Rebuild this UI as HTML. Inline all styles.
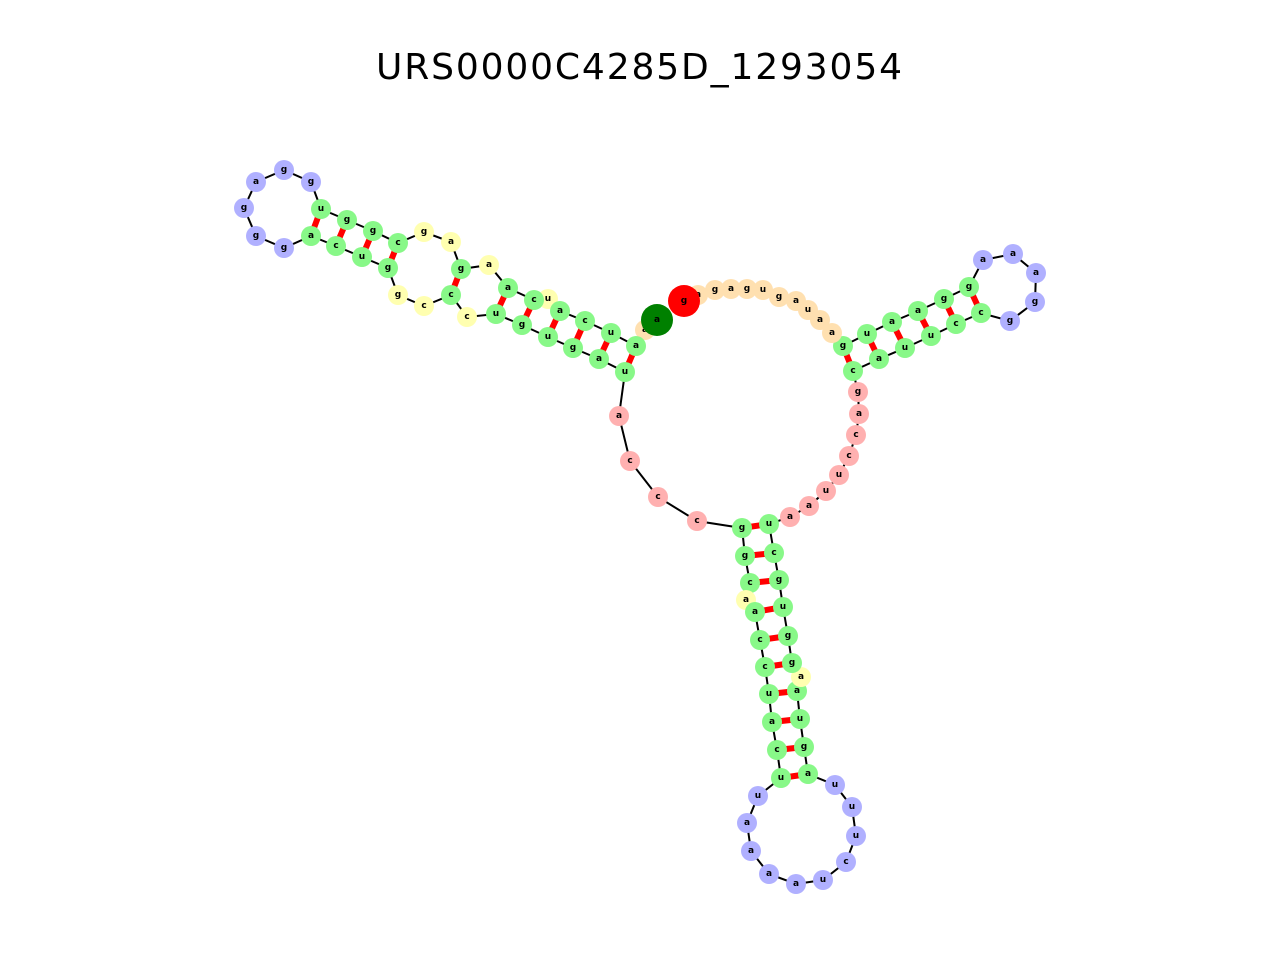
<!DOCTYPE html>
<html><head><meta charset="utf-8"><style>
body{margin:0;background:#fff;}
svg text{font-family:"DejaVu Sans","Liberation Sans",sans-serif;}
.n{font-size:9px;font-weight:bold;text-anchor:middle;dominant-baseline:central;fill:#000;}
.G{fill:#88f888}.B{fill:#b0b0ff}.P{fill:#ffb0b0}.Y{fill:#ffffb0}.O{fill:#ffe0b0}
</style></head><body>
<svg width="1280" height="960" viewBox="0 0 1280 960" xmlns="http://www.w3.org/2000/svg">
<text x="639" y="79" font-size="36" text-anchor="middle" textLength="526">URS0000C4285D_1293054</text>
<g stroke="red" stroke-width="6">
<line x1="311" y1="236" x2="321" y2="209"/><line x1="336" y1="246" x2="347" y2="220"/><line x1="362" y1="257" x2="373" y2="231"/><line x1="388" y1="268" x2="398" y2="243"/><line x1="451" y1="295" x2="461" y2="269"/><line x1="496" y1="314" x2="508" y2="288"/><line x1="522" y1="325" x2="534" y2="300"/><line x1="548" y1="337" x2="560" y2="311"/><line x1="573" y1="348" x2="585" y2="321"/><line x1="599" y1="359" x2="611" y2="333"/><line x1="625" y1="372" x2="636" y2="346"/>
<line x1="853" y1="371" x2="843" y2="346"/><line x1="879" y1="359" x2="867" y2="334"/><line x1="905" y1="348" x2="892" y2="322"/><line x1="931" y1="336" x2="918" y2="311"/><line x1="956" y1="324" x2="944" y2="299"/><line x1="981" y1="313" x2="969" y2="287"/>
<line x1="742" y1="528" x2="769" y2="524"/><line x1="745" y1="556" x2="774" y2="553"/><line x1="750" y1="583" x2="779" y2="580"/><line x1="755" y1="612" x2="783" y2="607"/><line x1="760" y1="640" x2="788" y2="636"/><line x1="765" y1="667" x2="792" y2="663"/><line x1="769" y1="694" x2="797" y2="691"/><line x1="772" y1="722" x2="800" y2="719"/><line x1="777" y1="750" x2="804" y2="747"/><line x1="781" y1="778" x2="808" y2="774"/>
</g>
<polyline fill="none" stroke="#000" stroke-width="2" points="657,320 645,330 636,346 611,333 585,321 560,311 548,299 534,300 508,288 489,265 461,269 451,242 424,232 398,243 373,231 347,220 321,209 311,182 284,170 256,182 244,208 256,236 284,248 311,236 336,246 362,257 388,268 398,295 424,306 451,295 467,317 496,314 522,325 548,337 573,348 599,359 625,372 619,416 630,461 658,497 697,521 742,528 745,556 750,583 746,600 755,612 760,640 765,667 769,694 772,722 777,750 781,778 758,796 747,823 751,851 769,874 796,884 823,880 846,862 856,836 852,807 835,785 808,774 804,747 800,719 797,691 801,677 792,663 788,636 783,607 779,580 774,553 769,524 790,517 809,506 826,491 839,475 849,456 856,435 859,414 858,392 853,371 879,359 905,348 931,336 956,324 981,313 1010,321 1035,302 1036,273 1013,254 983,260 969,287 944,299 918,311 892,322 867,334 843,346 832,333 820,320 808,310 796,301 779,297 763,290 747,289 731,289 715,290 698,295 684,301"/>
<g>
<circle cx="645" cy="330" r="10" class="O"/><text class="n" x="645" y="330">a</text>
<circle cx="636" cy="346" r="10" class="G"/><text class="n" x="636" y="346">a</text>
<circle cx="611" cy="333" r="10" class="G"/><text class="n" x="611" y="333">u</text>
<circle cx="585" cy="321" r="10" class="G"/><text class="n" x="585" y="321">c</text>
<circle cx="548" cy="299" r="10" class="Y"/><text class="n" x="548" y="299">u</text>
<circle cx="560" cy="311" r="10" class="G"/><text class="n" x="560" y="311">a</text>
<circle cx="534" cy="300" r="10" class="G"/><text class="n" x="534" y="300">c</text>
<circle cx="508" cy="288" r="10" class="G"/><text class="n" x="508" y="288">a</text>
<circle cx="489" cy="265" r="10" class="Y"/><text class="n" x="489" y="265">a</text>
<circle cx="461" cy="269" r="10" class="G"/><text class="n" x="461" y="269">g</text>
<circle cx="451" cy="242" r="10" class="Y"/><text class="n" x="451" y="242">a</text>
<circle cx="424" cy="232" r="10" class="Y"/><text class="n" x="424" y="232">g</text>
<circle cx="398" cy="243" r="10" class="G"/><text class="n" x="398" y="243">c</text>
<circle cx="373" cy="231" r="10" class="G"/><text class="n" x="373" y="231">g</text>
<circle cx="347" cy="220" r="10" class="G"/><text class="n" x="347" y="220">g</text>
<circle cx="321" cy="209" r="10" class="G"/><text class="n" x="321" y="209">u</text>
<circle cx="311" cy="182" r="10" class="B"/><text class="n" x="311" y="182">g</text>
<circle cx="284" cy="170" r="10" class="B"/><text class="n" x="284" y="170">g</text>
<circle cx="256" cy="182" r="10" class="B"/><text class="n" x="256" y="182">a</text>
<circle cx="244" cy="208" r="10" class="B"/><text class="n" x="244" y="208">g</text>
<circle cx="256" cy="236" r="10" class="B"/><text class="n" x="256" y="236">g</text>
<circle cx="284" cy="248" r="10" class="B"/><text class="n" x="284" y="248">g</text>
<circle cx="311" cy="236" r="10" class="G"/><text class="n" x="311" y="236">a</text>
<circle cx="336" cy="246" r="10" class="G"/><text class="n" x="336" y="246">c</text>
<circle cx="362" cy="257" r="10" class="G"/><text class="n" x="362" y="257">u</text>
<circle cx="388" cy="268" r="10" class="G"/><text class="n" x="388" y="268">g</text>
<circle cx="398" cy="295" r="10" class="Y"/><text class="n" x="398" y="295">g</text>
<circle cx="424" cy="306" r="10" class="Y"/><text class="n" x="424" y="306">c</text>
<circle cx="451" cy="295" r="10" class="G"/><text class="n" x="451" y="295">c</text>
<circle cx="467" cy="317" r="10" class="Y"/><text class="n" x="467" y="317">c</text>
<circle cx="496" cy="314" r="10" class="G"/><text class="n" x="496" y="314">u</text>
<circle cx="522" cy="325" r="10" class="G"/><text class="n" x="522" y="325">g</text>
<circle cx="548" cy="337" r="10" class="G"/><text class="n" x="548" y="337">u</text>
<circle cx="573" cy="348" r="10" class="G"/><text class="n" x="573" y="348">g</text>
<circle cx="599" cy="359" r="10" class="G"/><text class="n" x="599" y="359">a</text>
<circle cx="625" cy="372" r="10" class="G"/><text class="n" x="625" y="372">u</text>
<circle cx="619" cy="416" r="10" class="P"/><text class="n" x="619" y="416">a</text>
<circle cx="630" cy="461" r="10" class="P"/><text class="n" x="630" y="461">c</text>
<circle cx="658" cy="497" r="10" class="P"/><text class="n" x="658" y="497">c</text>
<circle cx="697" cy="521" r="10" class="P"/><text class="n" x="697" y="521">c</text>
<circle cx="742" cy="528" r="10" class="G"/><text class="n" x="742" y="528">g</text>
<circle cx="745" cy="556" r="10" class="G"/><text class="n" x="745" y="556">g</text>
<circle cx="750" cy="583" r="10" class="G"/><text class="n" x="750" y="583">c</text>
<circle cx="746" cy="600" r="10" class="Y"/><text class="n" x="746" y="600">a</text>
<circle cx="755" cy="612" r="10" class="G"/><text class="n" x="755" y="612">a</text>
<circle cx="760" cy="640" r="10" class="G"/><text class="n" x="760" y="640">c</text>
<circle cx="765" cy="667" r="10" class="G"/><text class="n" x="765" y="667">c</text>
<circle cx="769" cy="694" r="10" class="G"/><text class="n" x="769" y="694">u</text>
<circle cx="772" cy="722" r="10" class="G"/><text class="n" x="772" y="722">a</text>
<circle cx="777" cy="750" r="10" class="G"/><text class="n" x="777" y="750">c</text>
<circle cx="781" cy="778" r="10" class="G"/><text class="n" x="781" y="778">u</text>
<circle cx="758" cy="796" r="10" class="B"/><text class="n" x="758" y="796">u</text>
<circle cx="747" cy="823" r="10" class="B"/><text class="n" x="747" y="823">a</text>
<circle cx="751" cy="851" r="10" class="B"/><text class="n" x="751" y="851">a</text>
<circle cx="769" cy="874" r="10" class="B"/><text class="n" x="769" y="874">a</text>
<circle cx="796" cy="884" r="10" class="B"/><text class="n" x="796" y="884">a</text>
<circle cx="823" cy="880" r="10" class="B"/><text class="n" x="823" y="880">u</text>
<circle cx="846" cy="862" r="10" class="B"/><text class="n" x="846" y="862">c</text>
<circle cx="856" cy="836" r="10" class="B"/><text class="n" x="856" y="836">u</text>
<circle cx="852" cy="807" r="10" class="B"/><text class="n" x="852" y="807">u</text>
<circle cx="835" cy="785" r="10" class="B"/><text class="n" x="835" y="785">u</text>
<circle cx="808" cy="774" r="10" class="G"/><text class="n" x="808" y="774">a</text>
<circle cx="804" cy="747" r="10" class="G"/><text class="n" x="804" y="747">g</text>
<circle cx="800" cy="719" r="10" class="G"/><text class="n" x="800" y="719">u</text>
<circle cx="797" cy="691" r="10" class="G"/><text class="n" x="797" y="691">a</text>
<circle cx="801" cy="677" r="10" class="Y"/><text class="n" x="801" y="677">a</text>
<circle cx="792" cy="663" r="10" class="G"/><text class="n" x="792" y="663">g</text>
<circle cx="788" cy="636" r="10" class="G"/><text class="n" x="788" y="636">g</text>
<circle cx="783" cy="607" r="10" class="G"/><text class="n" x="783" y="607">u</text>
<circle cx="779" cy="580" r="10" class="G"/><text class="n" x="779" y="580">g</text>
<circle cx="774" cy="553" r="10" class="G"/><text class="n" x="774" y="553">c</text>
<circle cx="769" cy="524" r="10" class="G"/><text class="n" x="769" y="524">u</text>
<circle cx="790" cy="517" r="10" class="P"/><text class="n" x="790" y="517">a</text>
<circle cx="809" cy="506" r="10" class="P"/><text class="n" x="809" y="506">a</text>
<circle cx="826" cy="491" r="10" class="P"/><text class="n" x="826" y="491">u</text>
<circle cx="839" cy="475" r="10" class="P"/><text class="n" x="839" y="475">u</text>
<circle cx="849" cy="456" r="10" class="P"/><text class="n" x="849" y="456">c</text>
<circle cx="856" cy="435" r="10" class="P"/><text class="n" x="856" y="435">c</text>
<circle cx="859" cy="414" r="10" class="P"/><text class="n" x="859" y="414">a</text>
<circle cx="858" cy="392" r="10" class="P"/><text class="n" x="858" y="392">g</text>
<circle cx="853" cy="371" r="10" class="G"/><text class="n" x="853" y="371">c</text>
<circle cx="879" cy="359" r="10" class="G"/><text class="n" x="879" y="359">a</text>
<circle cx="905" cy="348" r="10" class="G"/><text class="n" x="905" y="348">u</text>
<circle cx="931" cy="336" r="10" class="G"/><text class="n" x="931" y="336">u</text>
<circle cx="956" cy="324" r="10" class="G"/><text class="n" x="956" y="324">c</text>
<circle cx="981" cy="313" r="10" class="G"/><text class="n" x="981" y="313">c</text>
<circle cx="1010" cy="321" r="10" class="B"/><text class="n" x="1010" y="321">g</text>
<circle cx="1035" cy="302" r="10" class="B"/><text class="n" x="1035" y="302">g</text>
<circle cx="1036" cy="273" r="10" class="B"/><text class="n" x="1036" y="273">a</text>
<circle cx="1013" cy="254" r="10" class="B"/><text class="n" x="1013" y="254">a</text>
<circle cx="983" cy="260" r="10" class="B"/><text class="n" x="983" y="260">a</text>
<circle cx="969" cy="287" r="10" class="G"/><text class="n" x="969" y="287">g</text>
<circle cx="944" cy="299" r="10" class="G"/><text class="n" x="944" y="299">g</text>
<circle cx="918" cy="311" r="10" class="G"/><text class="n" x="918" y="311">a</text>
<circle cx="892" cy="322" r="10" class="G"/><text class="n" x="892" y="322">a</text>
<circle cx="867" cy="334" r="10" class="G"/><text class="n" x="867" y="334">u</text>
<circle cx="843" cy="346" r="10" class="G"/><text class="n" x="843" y="346">g</text>
<circle cx="832" cy="333" r="10" class="O"/><text class="n" x="832" y="333">a</text>
<circle cx="820" cy="320" r="10" class="O"/><text class="n" x="820" y="320">a</text>
<circle cx="808" cy="310" r="10" class="O"/><text class="n" x="808" y="310">u</text>
<circle cx="796" cy="301" r="10" class="O"/><text class="n" x="796" y="301">a</text>
<circle cx="779" cy="297" r="10" class="O"/><text class="n" x="779" y="297">g</text>
<circle cx="763" cy="290" r="10" class="O"/><text class="n" x="763" y="290">u</text>
<circle cx="747" cy="289" r="10" class="O"/><text class="n" x="747" y="289">g</text>
<circle cx="731" cy="289" r="10" class="O"/><text class="n" x="731" y="289">a</text>
<circle cx="715" cy="290" r="10" class="O"/><text class="n" x="715" y="290">g</text>
<circle cx="698" cy="295" r="10" class="O"/><text class="n" x="698" y="295">a</text>
<circle cx="684" cy="301" r="16" fill="#ff0000"/><text class="n" x="684" y="301">g</text>
<circle cx="657" cy="320" r="16" fill="#008000"/><text class="n" x="657" y="320">a</text>
</g>
</svg>
</body></html>
